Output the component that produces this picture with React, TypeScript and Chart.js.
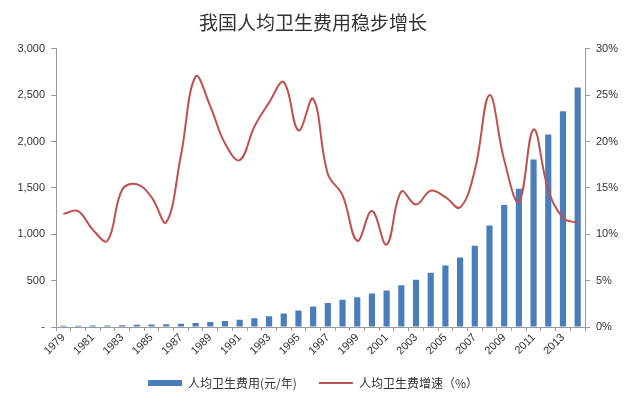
import React, { useEffect, useRef } from 'react';
import { Chart, registerables } from 'chart.js';

Chart.register(...registerables);

const titleText = '我国人均卫生费用稳步增长';
const years = [
  '1979', '1980', '1981', '1982', '1983', '1984', '1985', '1986', '1987', '1988',
  '1989', '1990', '1991', '1992', '1993', '1994', '1995', '1996', '1997', '1998',
  '1999', '2000', '2001', '2002', '2003', '2004', '2005', '2006', '2007', '2008',
  '2009', '2010', '2011', '2012', '2013', '2014',
];
const spendingLabel = '人均卫生费用(元/年)';
const spending = [
  12.9, 14.5, 16.0, 17.5, 20.1, 23.0, 26.4, 29.4, 35.0, 43.8,
  54.6, 65.4, 77.1, 93.6, 116.3, 146.9, 177.9, 221.4, 258.6, 294.9,
  321.8, 361.9, 393.8, 450.7, 509.5, 583.9, 662.3, 748.8, 876.0, 1094.5,
  1314.3, 1490.1, 1807.0, 2076.7, 2327.4, 2581.7,
];
const growthLabel = '人均卫生费增速（%）';
const growth = [
  12.2, 12.5, 10.5, 9.3, 14.8, 15.4, 14.0, 11.3, 18.5, 27.0,
  23.8, 19.8, 18.0, 21.6, 24.2, 26.4, 21.2, 24.6, 16.5, 14.2,
  9.3, 12.5, 8.9, 14.6, 13.2, 14.7, 14.0, 12.9, 16.9, 25.0,
  18.0, 13.5, 21.3, 14.8, 11.8, 11.2,
];

const BLUE = '#4a7ebb';
const RED = '#c0504d';
const AXIS = '#9a9a9a';
const TEXT = '#333333';

export default function App() {
  const ref = useRef<HTMLCanvasElement | null>(null);

  useEffect(() => {
    document.body.style.margin = '0';
    const ctx = ref.current!;
    const chart = new Chart(ctx, {
      type: 'bar',
      data: {
        labels: years,
        datasets: [
          {
            type: 'line',
            label: growthLabel,
            data: growth,
            yAxisID: 'y1',
            borderColor: RED,
            backgroundColor: RED,
            borderWidth: 2,
            pointRadius: 0,
            tension: 0.4,
            order: 0,
          } as any,
          {
            type: 'bar',
            label: spendingLabel,
            data: spending,
            yAxisID: 'y',
            backgroundColor: BLUE,
            borderWidth: 0,
            barPercentage: 0.42,
            categoryPercentage: 1,
            order: 1,
          },
        ],
      },
      options: {
        responsive: false,
        animation: false,
        layout: { padding: { left: 0, right: 0, top: 0, bottom: -6 } },
        plugins: {
          title: {
            display: true,
            text: titleText,
            color: TEXT,
            font: { family: '"Noto Sans CJK SC"', size: 19, weight: 'normal' },
            padding: { top: 11, bottom: 15 },
          },
          legend: {
            display: true,
            position: 'bottom',
            labels: {
              usePointStyle: true,
              pointStyleWidth: 34,
              boxHeight: 6,
              color: TEXT,
              padding: 22,
              font: { family: '"Noto Sans CJK SC"', size: 12 },
              generateLabels: () => [
                {
                  text: spendingLabel,
                  fillStyle: BLUE,
                  strokeStyle: BLUE,
                  lineWidth: 0,
                  pointStyle: 'rect',
                  datasetIndex: 1,
                  fontColor: TEXT,
                },
                {
                  text: growthLabel,
                  fillStyle: RED,
                  strokeStyle: RED,
                  lineWidth: 2,
                  pointStyle: 'line',
                  datasetIndex: 0,
                  fontColor: TEXT,
                },
              ],
            },
          },
          tooltip: { enabled: false },
        },
        scales: {
          x: {
            offset: true,
            border: { color: AXIS },
            grid: { offset: true, drawOnChartArea: false, tickLength: 4, color: AXIS },
            ticks: {
              autoSkip: false,
              maxRotation: 45,
              minRotation: 45,
              color: TEXT,
              padding: 0,
              font: { family: '"Liberation Sans"', size: 11 },
              callback: (_v: any, i: number) => (i % 2 === 0 ? years[i] : ''),
            },
            afterFit: (s: any) => {
              s.height = 28;
            },
          },
          y: {
            position: 'left',
            min: 0,
            max: 3000,
            border: { color: AXIS },
            grid: { drawOnChartArea: false, tickLength: 5, color: AXIS },
            ticks: {
              stepSize: 500,
              color: TEXT,
              padding: 6,
              font: { family: '"Liberation Sans"', size: 11 },
              callback: (v: any) => (Number(v) === 0 ? '-' : Number(v).toLocaleString('en-US')),
            },
            afterFit: (s: any) => {
              s.width = 56;
            },
          },
          y1: {
            position: 'right',
            min: 0,
            max: 30,
            border: { color: AXIS },
            grid: { drawOnChartArea: false, tickLength: 5, color: AXIS },
            ticks: {
              stepSize: 5,
              color: TEXT,
              padding: 6,
              font: { family: '"Liberation Sans"', size: 11 },
              callback: (v: any) => `${v}%`,
            },
            afterFit: (s: any) => {
              s.width = 41;
            },
          },
        },
      },
    });
    return () => chart.destroy();
  }, []);

  return (
    <div style={{ position: 'absolute', left: 0, top: 0, width: 626, height: 393 }}>
      <canvas ref={ref} width={626} height={393} style={{ width: 626, height: 393 }} />
    </div>
  );
}
